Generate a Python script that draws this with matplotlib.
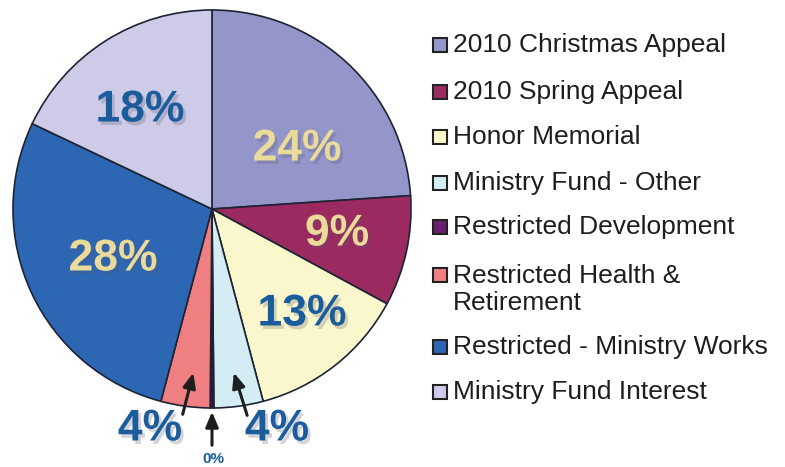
import matplotlib.pyplot as plt
import matplotlib.patheffects as pe
from matplotlib.patches import Rectangle

# --- DATA ---
categories = [
    "2010 Christmas Appeal",
    "2010 Spring Appeal",
    "Honor Memorial",
    "Ministry Fund - Other",
    "Restricted Development",
    "Restricted Health &\nRetirement",
    "Restricted - Ministry Works",
    "Ministry Fund Interest",
]
shares = [24, 9, 13, 4, 0.3, 4, 28, 18]
pct_labels = ["24%", "9%", "13%", "4%", "0%", "4%", "28%", "18%"]
colors = ["#9495c9", "#9b2a61", "#fbf7cc", "#d4edf4",
          "#3a1440", "#ef7f81", "#2d66b3", "#cdcbe7"]
legend_colors = ["#9495c9", "#9b2a61", "#fbf7cc", "#d4edf4",
                 "#6a1f6e", "#ef7f81", "#2d66b3", "#cdcbe7"]

GOLD = "#eadb9b"
BLUE = "#1b5c9c"

plt.rcParams["font.family"] = ["Liberation Sans", "DejaVu Sans"]

fig = plt.figure(figsize=(7.85, 4.67), dpi=100)
ax = fig.add_axes([0, 0, 1, 1])

H = 467
ax.pie(shares, colors=colors, startangle=90, counterclock=False,
       center=(212, H - 209), radius=199, frame=True,
       wedgeprops=dict(edgecolor="#1c2433", linewidth=1.2))
ax.set_xlim(0, 785)
ax.set_ylim(0, 467)
ax.set_aspect("equal")
ax.axis("off")

shadow = [pe.SimplePatchShadow(offset=(2, -2.5), shadow_rgbFace="#555566", alpha=0.25),
          pe.Normal()]

# percentage labels (x, y in pixels from top-left, colour, size)
label_pos = [(297, 149, GOLD, 32), (337, 234, GOLD, 32), (302, 314, BLUE, 32),
             (277, 429, BLUE, 32), (213, 459, BLUE, 11), (150, 429, BLUE, 32),
             (113, 259, GOLD, 32), (140, 110, BLUE, 32)]
for txt, (x, y, c, s) in zip(pct_labels, label_pos):
    ax.text(x, H - y, txt, color=c, fontsize=s, fontweight="bold",
            ha="center", va="center",
            path_effects=shadow if s > 20 else None)

# arrows for the small slices
arrow_kw = dict(arrowstyle="-|>,head_length=0.9,head_width=0.38",
                color="#1e1e1e", lw=2.2)
for (x0, y0), (x1, y1) in [((182, 417), (194, 370)),
                           ((248, 418), (233, 370)),
                           ((212, 448), (212, 409))]:
    ax.annotate("", xy=(x1, H - y1), xytext=(x0, H - y0), arrowprops=arrow_kw)

# legend
legend_y = [45, 92, 137, 183, 227, 275, 347, 392]
for name, c, y in zip(categories, legend_colors, legend_y):
    ax.add_patch(Rectangle((433, H - y - 7), 14, 14, facecolor=c,
                           edgecolor="#222222", linewidth=1.5))
    extra = name.count("\n")
    ax.text(453, H - y - 7 - 28 * extra, name, fontsize=19, color="#1e1e1e",
            ha="left", va="baseline", linespacing=1.17)

fig.savefig("out.png", dpi=100)
